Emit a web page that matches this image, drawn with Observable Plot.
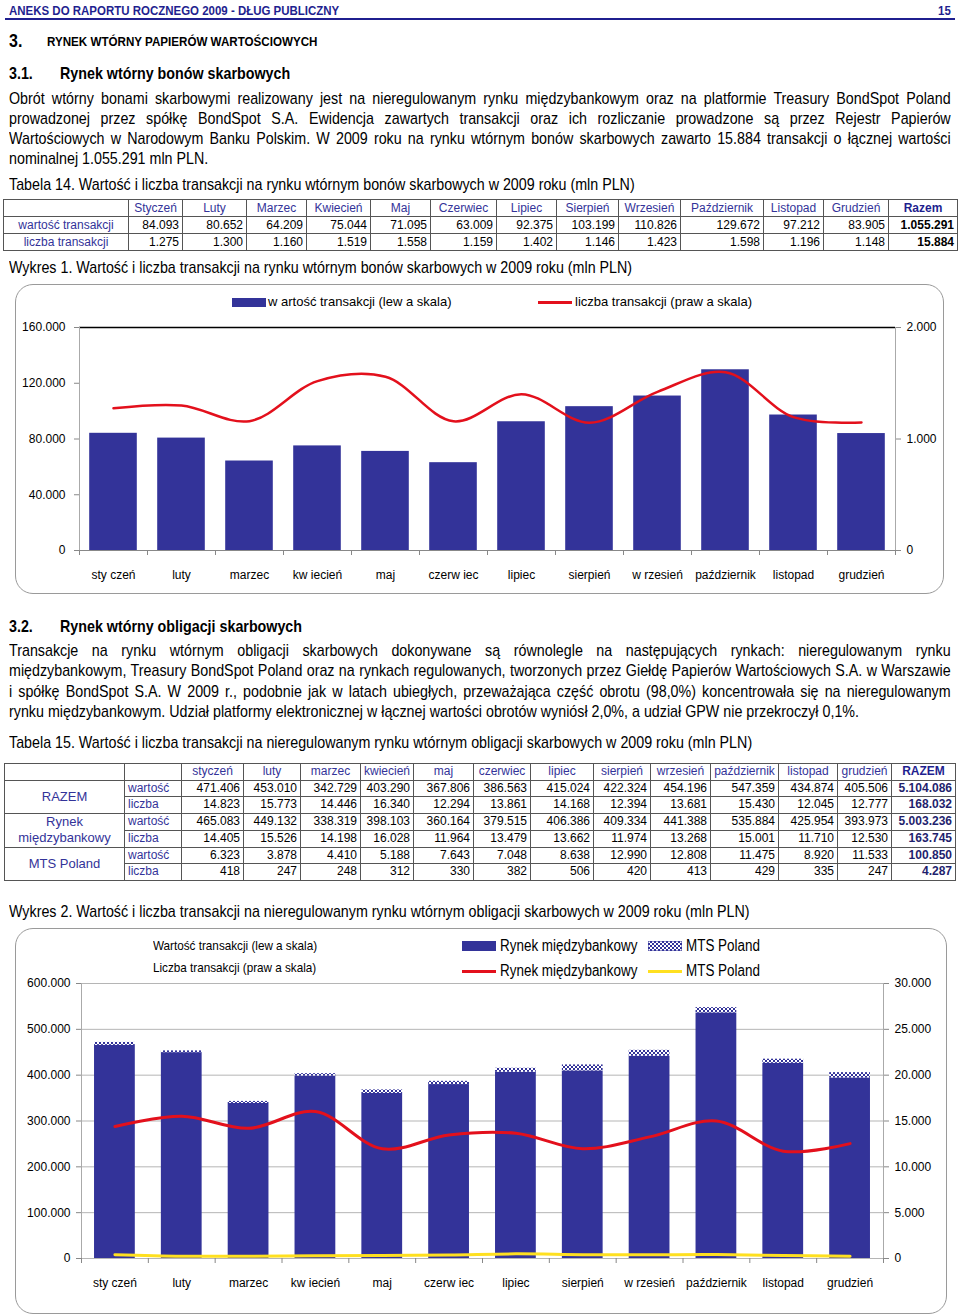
<!DOCTYPE html>
<html><head><meta charset="utf-8">
<script src="https://cdn.jsdelivr.net/npm/d3@7"></script>
<script src="https://cdn.jsdelivr.net/npm/@observablehq/plot@0.6"></script>
<style>
:root{--nf:"Liberation Sans",Arial,sans-serif;}
html,body{margin:0;padding:0;background:#fff;}
body{width:960px;height:1316px;position:relative;overflow:hidden;font-family:var(--nf);color:#000;}
.a{position:absolute;white-space:nowrap;}
.n{transform:scaleX(0.84);transform-origin:0 0;}
.hdr{color:#1f1f8f;font-weight:bold;font-size:13.5px;line-height:16px;transform:scaleX(0.85);transform-origin:0 0;}
.p{font-size:17px;line-height:20px;}
.jl{width:1121px;text-align:justify;text-align-last:justify;white-space:normal;}
table{border-collapse:collapse;table-layout:fixed;font-family:var(--nf);}
td{border:1px solid #555;padding:0 3px;white-space:nowrap;overflow:hidden;}
.t14 td{height:16px;line-height:16px;font-size:12px;}
.t15 td{height:15.7px;line-height:15.7px;font-size:12px;}
.bl{color:#333399;}
.c{text-align:center;}
.r{text-align:right;}
.box{position:absolute;border:1px solid #9a9a9a;border-radius:18px;background:#fff;}
.leg{font-size:13px;}
.leg2{font-size:13px;transform:scaleX(0.9);transform-origin:0 0;}
</style></head>
<body>
<script>
// ---------- data ----------
const monthsTable14 = ["Styczeń","Luty","Marzec","Kwiecień","Maj","Czerwiec","Lipiec","Sierpień","Wrzesień","Październik","Listopad","Grudzień"];
const monthsTable15 = ["styczeń","luty","marzec","kwiecień","maj","czerwiec","lipiec","sierpień","wrzesień","październik","listopad","grudzień"];
const monthsChart = ["sty czeń","luty","marzec","kw iecień","maj","czerw iec","lipiec","sierpień","w rzesień","październik","listopad","grudzień"];

const bondValue = [84093,80652,64209,75044,71095,63009,92375,103199,110826,129672,97212,83905];
const bondCount = [1275,1300,1160,1519,1558,1159,1402,1146,1423,1598,1196,1148];
const bondValueTotal = 1055291;
const bondCountTotal = 15884;

const totalValue = [471406,453010,342729,403290,367806,386563,415024,422324,454196,547359,434874,405506];
const totalCount = [14823,15773,14446,16340,12294,13861,14168,12394,13681,15430,12045,12777];
const interValue = [465083,449132,338319,398103,360164,379515,406386,409334,441388,535884,425954,393973];
const interCount = [14405,15526,14198,16028,11964,13479,13662,11974,13268,15001,11710,12530];
const mtsValue = [6323,3878,4410,5188,7643,7048,8638,12990,12808,11475,8920,11533];
const mtsCount = [418,247,248,312,330,382,506,420,413,429,335,247];
const totals15 = {totalValue:5104086,totalCount:168032,interValue:5003236,interCount:163745,mtsValue:100850,mtsCount:4287};

const ticks1Left = [0,40000,80000,120000,160000];
const ticks1Right = [0,1000,2000];
const ticks2Left = [0,100000,200000,300000,400000,500000,600000];
const ticks2Right = [0,5000,10000,15000,20000,25000,30000];

const loc = d3.formatLocale({decimal:",",thousands:".",grouping:[3],currency:["",""]});
const fmt = loc.format(",d");
const NF = '"Liberation Sans",Arial,sans-serif';

function add(html){document.body.insertAdjacentHTML("beforeend",html);}

// ---------- page text ----------
add(`<div class="a hdr" style="left:9px;top:3px;">ANEKS DO RAPORTU ROCZNEGO 2009 - DŁUG PUBLICZNY</div>
<div class="a hdr" style="left:938px;top:3px;">15</div>
<div class="a" style="left:5px;top:18px;width:950px;height:2px;background:#1f1f8f;"></div>
<div class="a n" style="left:9px;top:31px;font-size:19px;font-weight:bold;line-height:20px;">3.</div>
<div class="a hdr" style="left:47px;top:34px;color:#000;font-size:13.5px;transform:scaleX(0.86);">RYNEK WTÓRNY PAPIERÓW WARTOŚCIOWYCH</div>
<div class="a n" style="left:9px;top:64px;font-size:17px;font-weight:bold;line-height:20px;">3.1.</div>
<div class="a n" style="left:60px;top:64px;font-size:17px;font-weight:bold;line-height:20px;">Rynek wtórny bonów skarbowych</div>
<div class="a p n" style="left:9px;top:89px;">
<div class="jl">Obrót wtórny bonami skarbowymi realizowany jest na nieregulowanym rynku międzybankowym oraz na platformie Treasury BondSpot Poland</div>
<div class="jl">prowadzonej przez spółkę BondSpot S.A. Ewidencja zawartych transakcji oraz ich rozliczanie prowadzone są przez Rejestr Papierów</div>
<div class="jl">Wartościowych w Narodowym Banku Polskim. W 2009 roku na rynku wtórnym bonów skarbowych zawarto 15.884 transakcji o łącznej wartości</div>
<div>nominalnej 1.055.291 mln PLN.</div></div>
<div class="a p n" style="left:9px;top:175px;">Tabela 14. Wartość i liczba transakcji na rynku wtórnym bonów skarbowych w 2009 roku (mln PLN)</div>
<div class="a p n" style="left:9px;top:258px;">Wykres 1. Wartość i liczba transakcji na rynku wtórnym bonów skarbowych w 2009 roku (mln PLN)</div>
<div class="a n" style="left:9px;top:617px;font-size:17px;font-weight:bold;line-height:20px;">3.2.</div>
<div class="a n" style="left:60px;top:617px;font-size:17px;font-weight:bold;line-height:20px;">Rynek wtórny obligacji skarbowych</div>
<div class="a p n" style="left:9px;top:641px;line-height:20.3px;">
<div class="jl">Transakcje na rynku wtórnym obligacji skarbowych dokonywane są równolegle na następujących rynkach: nieregulowanym rynku</div>
<div class="jl">międzybankowym, Treasury BondSpot Poland oraz na rynkach regulowanych, tworzonych przez Giełdę Papierów Wartościowych S.A. w Warszawie</div>
<div class="jl">i spółkę BondSpot S.A. W 2009 r., podobnie jak w latach ubiegłych, przeważająca część obrotu (98,0%) koncentrowała się na nieregulowanym</div>
<div>rynku międzybankowym. Udział platformy elektronicznej w łącznej wartości obrotów wyniósł 2,0%, a udział GPW nie przekroczył 0,1%.</div></div>
<div class="a p n" style="left:9px;top:733px;">Tabela 15. Wartość i liczba transakcji na nieregulowanym rynku wtórnym obligacji skarbowych w 2009 roku (mln PLN)</div>
<div class="a p n" style="left:9px;top:902px;">Wykres 2. Wartość i liczba transakcji na nieregulowanym rynku wtórnym obligacji skarbowych w 2009 roku (mln PLN)</div>
`);

// ---------- table 14 ----------
(function(){
  const w=[125,54,64,60,64,60,66,60,62,62,83,60,65,69];
  let h=`<table class="a t14" style="left:3px;top:199px;width:954px;"><colgroup>${w.map(x=>`<col style="width:${x}px">`).join("")}</colgroup>`;
  h+=`<tr><td></td>${monthsTable14.map(m=>`<td class="c bl">${m}</td>`).join("")}<td class="c" style="color:#1f1f8f;font-weight:bold;">Razem</td></tr>`;
  h+=`<tr><td class="c bl">wartość transakcji</td>${bondValue.map(v=>`<td class="r">${fmt(v)}</td>`).join("")}<td class="r" style="font-weight:bold;">${fmt(bondValueTotal)}</td></tr>`;
  h+=`<tr><td class="c bl">liczba transakcji</td>${bondCount.map(v=>`<td class="r">${fmt(v)}</td>`).join("")}<td class="r" style="font-weight:bold;">${fmt(bondCountTotal)}</td></tr>`;
  h+=`</table>`;
  add(h);
})();

// ---------- table 15 ----------
(function(){
  const w=[120,57,62,57,60,53,60,57,63,57,60,68,59,54,64];
  let h=`<table class="a t15" style="left:4px;top:763px;width:951px;"><colgroup>${w.map(x=>`<col style="width:${x}px">`).join("")}</colgroup>`;
  h+=`<tr><td></td><td></td>${monthsTable15.map(m=>`<td class="c bl">${m}</td>`).join("")}<td class="c" style="color:#1f1f8f;font-weight:bold;">RAZEM</td></tr>`;
  const groups=[["RAZEM",totalValue,totalCount,totals15.totalValue,totals15.totalCount],
                ["Rynek<br>międzybankowy",interValue,interCount,totals15.interValue,totals15.interCount],
                ["MTS Poland",mtsValue,mtsCount,totals15.mtsValue,totals15.mtsCount]];
  for(const [name,val,cnt,tv,tc] of groups){
    h+=`<tr><td rowspan="2" class="c bl" style="font-size:13px;line-height:16px;white-space:normal;">${name}</td><td class="bl">wartość</td>${val.map(v=>`<td class="r">${fmt(v)}</td>`).join("")}<td class="r" style="font-weight:bold;color:#1f1f6e;">${fmt(tv)}</td></tr>`;
    h+=`<tr><td class="bl">liczba</td>${cnt.map(v=>`<td class="r">${fmt(v)}</td>`).join("")}<td class="r" style="font-weight:bold;color:#1f1f6e;">${fmt(tc)}</td></tr>`;
  }
  h+=`</table>`;
  add(h);
})();

// ---------- chart 1 ----------
add(`<div class="box" style="left:15px;top:284px;width:927px;height:308px;"></div>`);
add(`<div class="a" style="left:232px;top:298px;width:34px;height:9px;background:#333399;"></div>
<div class="a leg" style="left:268px;top:294px;line-height:16px;">w artość transakcji (lew a skala)</div>
<div class="a" style="left:538px;top:301px;width:34px;height:3px;background:#e3101c;"></div>
<div class="a leg" style="left:575px;top:294px;line-height:16px;">liczba transakcji (praw a skala)</div>`);

const idx = d3.range(12);
const k1 = 160000/2000;
const chart1 = Plot.plot({
  width: 927, height: 285, marginTop: 22, marginBottom: 40, marginLeft: 64, marginRight: 47,
  style: {fontFamily: NF, fontSize: "12px", color: "#000", background: "transparent", overflow: "visible"},
  x: {domain: [0, 12], axis: null},
  y: {domain: [0, 160000], axis: null},
  marks: [
    Plot.rectY(idx, {x1: i => i + 0.15, x2: i => i + 0.85, y1: 0, y2: i => bondValue[i], fill: "#333399"}),
    Plot.line(idx, {x: i => i + 0.5, y: i => bondCount[i] * k1, stroke: "#e3101c", strokeWidth: 2.5, curve: "catmull-rom"}),
    Plot.ruleY([160000], {stroke: "#000", strokeWidth: 1.5}),
    Plot.ruleY([0], {stroke: "#888"}),
    Plot.ruleX([0, 12], {stroke: "#aaa"}),
    Plot.axisY(ticks1Left, {anchor: "left", tickFormat: fmt, tickSize: 5, tickPadding: 9, label: null, stroke: "#888"}),
    Plot.axisY(ticks1Right.map(v => v * k1), {anchor: "right", tickFormat: d => fmt(d / k1), tickSize: 5, tickPadding: 6, label: null, stroke: "#888"}),
    Plot.axisX(d3.range(13), {tickFormat: () => "", tickSize: 5, label: null, stroke: "#888"}),
    Plot.axisX(idx.map(i => i + 0.5), {tickFormat: d => monthsChart[Math.floor(d)], tickSize: 0, tickPadding: 20, label: null})
  ]
});
chart1.style.position = "absolute"; chart1.style.left = "15px"; chart1.style.top = "305px";
document.body.appendChild(chart1);

// ---------- chart 2 ----------
add(`<div class="box" style="left:15px;top:928px;width:930px;height:384px;"></div>`);
add(`<div class="a leg2" style="left:153px;top:938px;line-height:16px;">Wartość transakcji (lew a skala)</div>
<div class="a leg2" style="left:153px;top:960px;line-height:16px;">Liczba transakcji (praw a skala)</div>
<div class="a" style="left:462px;top:941px;width:34px;height:10px;background:#333399;"></div>
<div class="a n" style="left:500px;top:936px;font-size:16px;line-height:20px;">Rynek międzybankowy</div>
<svg class="a" style="left:648px;top:941px;" width="34" height="10"><defs><pattern id="mtsLeg" width="4" height="4" patternUnits="userSpaceOnUse"><rect width="4" height="4" fill="#333399"/><rect width="2" height="2" fill="#fff"/><rect x="2" y="2" width="2" height="2" fill="#fff"/></pattern></defs><rect width="34" height="10" fill="url(#mtsLeg)" stroke="#333399"/></svg>
<div class="a n" style="left:686px;top:936px;font-size:16px;line-height:20px;">MTS Poland</div>
<div class="a" style="left:462px;top:970px;width:34px;height:3px;background:#e3101c;"></div>
<div class="a n" style="left:500px;top:961px;font-size:16px;line-height:20px;">Rynek międzybankowy</div>
<div class="a" style="left:648px;top:970px;width:34px;height:3px;background:#ffe020;"></div>
<div class="a n" style="left:686px;top:961px;font-size:16px;line-height:20px;">MTS Poland</div>`);

const k2 = 600000/30000;
const chart2 = Plot.plot({
  width: 930, height: 326, marginTop: 11, marginBottom: 40, marginLeft: 66, marginRight: 62,
  style: {fontFamily: NF, fontSize: "12px", color: "#000", background: "transparent", overflow: "visible"},
  x: {domain: [0, 12], axis: null},
  y: {domain: [0, 600000], axis: null},
  marks: [
    Plot.ruleY(ticks2Left, {stroke: "#b5b5b5"}),
    Plot.ruleX([0, 12], {stroke: "#aaa"}),
    Plot.rectY(idx, {x1: i => i + 0.195, x2: i => i + 0.805, y1: 0, y2: i => interValue[i], fill: "#333399"}),
    Plot.rectY(idx, {x1: i => i + 0.195, x2: i => i + 0.805, y1: i => interValue[i], y2: i => interValue[i] + mtsValue[i], fill: "url(#mtsPat)"}),
    Plot.line(idx, {x: i => i + 0.5, y: i => interCount[i] * k2, stroke: "#e3101c", strokeWidth: 3, curve: "catmull-rom"}),
    Plot.line(idx, {x: i => i + 0.5, y: i => mtsCount[i] * k2, stroke: "#ffe020", strokeWidth: 3, curve: "catmull-rom"}),
    Plot.axisY(ticks2Left, {anchor: "left", tickFormat: fmt, tickSize: 5, tickPadding: 6, label: null, stroke: "#888"}),
    Plot.axisY(ticks2Right.map(v => v * k2), {anchor: "right", tickFormat: d => fmt(d / k2), tickSize: 5, tickPadding: 6, label: null, stroke: "#888"}),
    Plot.axisX(d3.range(13), {tickFormat: () => "", tickSize: 5, label: null, stroke: "#888"}),
    Plot.axisX(idx.map(i => i + 0.5), {tickFormat: d => monthsChart[Math.floor(d)], tickSize: 0, tickPadding: 20, label: null})
  ]
});
const defs = document.createElementNS("http://www.w3.org/2000/svg", "defs");
defs.innerHTML = `<pattern id="mtsPat" width="4" height="4" patternUnits="userSpaceOnUse"><rect width="4" height="4" fill="#333399"/><rect width="2" height="2" fill="#fff"/><rect x="2" y="2" width="2" height="2" fill="#fff"/></pattern>`;
chart2.insertBefore(defs, chart2.firstChild);
chart2.style.position = "absolute"; chart2.style.left = "15px"; chart2.style.top = "972px";
document.body.appendChild(chart2);
</script>
</body></html>
